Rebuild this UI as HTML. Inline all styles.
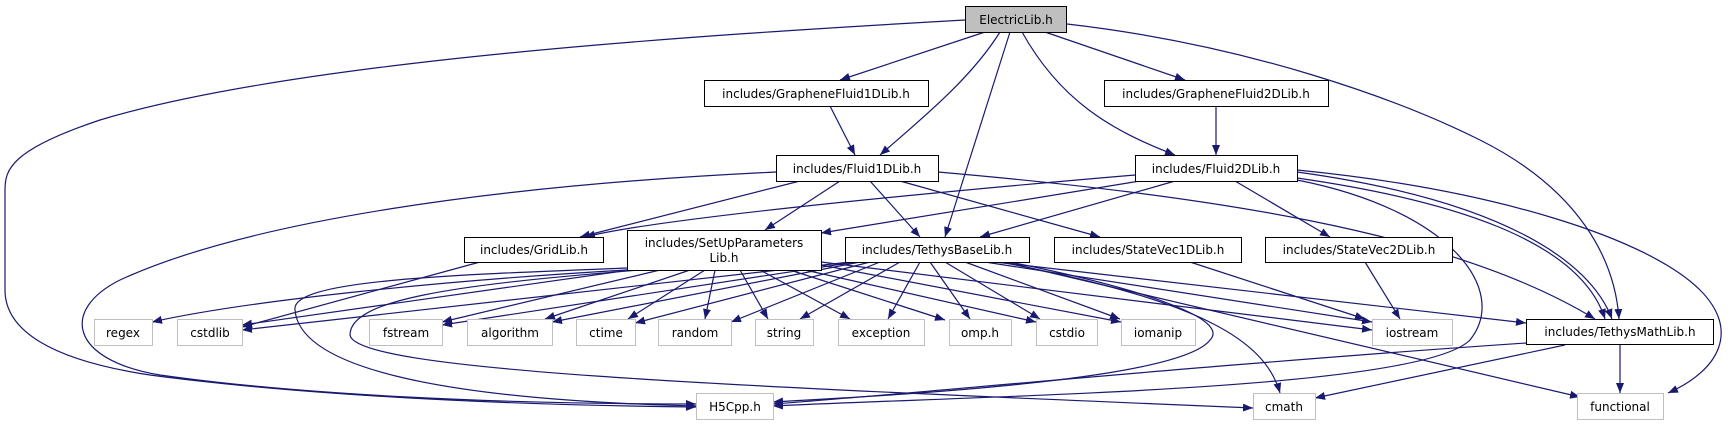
<!DOCTYPE html>
<html><head><meta charset="utf-8"><style>
html,body{margin:0;padding:0;background:#fff;width:1735px;height:425px;overflow:hidden}
svg text{font-family:"DejaVu Sans","Liberation Sans",sans-serif;font-size:12px;fill:#000}
</style></head><body>
<svg width="1735" height="425" viewBox="0 0 1735 425" xmlns="http://www.w3.org/2000/svg">
<defs><marker id="a" markerUnits="userSpaceOnUse" markerWidth="11" markerHeight="8" refX="10" refY="4" orient="auto"><path d="M0,0 L10,4 L0,8 z" fill="#191970"/></marker></defs>
<g fill="none" stroke="#191970" stroke-width="1.2" marker-end="url(#a)">
<path d="M965,20 C700,35 300,60 100,120 C10,150 5,170 5,190 L5,290 C5,330 50,360 150,375 C300,395 500,405 696,407"/>
<path d="M985,32 L840,80"/>
<path d="M1000,32 C970,80 920,120 880,155"/>
<path d="M1010,32 L945,237"/>
<path d="M1022,32 C1060,100 1110,130 1175,155"/>
<path d="M1045,32 L1185,80"/>
<path d="M1067,24 C1250,45 1400,100 1480,140 C1580,190 1615,260 1619,319"/>
<path d="M830,106 L855,155"/>
<path d="M1216,106 L1216,155"/>
<path d="M776,172 C500,185 250,220 120,280 C60,310 70,360 160,375 C300,395 500,404 696,404"/>
<path d="M800,181 L580,237"/>
<path d="M840,181 L765,230"/>
<path d="M870,181 L920,237"/>
<path d="M900,181 L1100,237"/>
<path d="M938,172 C1200,195 1450,230 1595,319"/>
<path d="M1135,175 C900,195 650,220 585,237"/>
<path d="M1140,181 L821,233"/>
<path d="M1175,181 L980,237"/>
<path d="M1235,181 L1330,237"/>
<path d="M1297,178 C1450,200 1580,240 1605,319"/>
<path d="M1297,172 C1500,200 1590,260 1612,319"/>
<path d="M1297,170 C1500,190 1650,240 1700,290 C1740,330 1720,370 1668,393"/>
<path d="M1297,180 C1450,210 1510,290 1470,340 C1420,390 1000,395 773,406"/>
<path d="M627,270 C450,280 250,300 152,322"/>
<path d="M630,270 L242,325"/>
<path d="M660,270 L442,322"/>
<path d="M690,270 L545,319"/>
<path d="M705,270 L628,319"/>
<path d="M715,270 L705,319"/>
<path d="M740,270 L768,319"/>
<path d="M760,270 L850,319"/>
<path d="M790,270 L945,320"/>
<path d="M805,270 L1036,322"/>
<path d="M821,265 L1121,322"/>
<path d="M821,262 L1372,330"/>
<path d="M627,268 C450,275 290,280 295,310 C300,370 450,400 696,406"/>
<path d="M640,270 C450,285 350,300 350,335 C355,370 700,385 1253,408"/>
<path d="M480,262 L242,327"/>
<path d="M850,262 L242,330"/>
<path d="M855,262 L442,325"/>
<path d="M860,262 L552,322"/>
<path d="M870,262 L635,323"/>
<path d="M880,262 L731,322"/>
<path d="M900,262 L800,319"/>
<path d="M920,262 L888,319"/>
<path d="M930,262 L970,319"/>
<path d="M945,262 L1040,319"/>
<path d="M965,262 L1120,319"/>
<path d="M985,262 L1372,322"/>
<path d="M995,262 L1526,323"/>
<path d="M1000,262 C1200,300 1265,340 1280,393"/>
<path d="M1005,262 L1580,397"/>
<path d="M1010,262 C1150,290 1230,320 1210,340 C1180,380 900,395 773,402"/>
<path d="M1190,262 L1365,319"/>
<path d="M1365,262 L1400,319"/>
<path d="M1526,343 C1200,365 900,395 773,404"/>
<path d="M1565,345 L1315,398"/>
<path d="M1620,345 L1620,393"/>
</g>
<g stroke="#000" stroke-width="1" fill="#fff">
<rect x="965.5" y="6.5" width="101" height="26" fill="#bfbfbf"/>
<rect x="704.5" y="80.5" width="224" height="26"/>
<rect x="1104.5" y="80.5" width="224" height="26"/>
<rect x="776.5" y="155.5" width="162" height="26"/>
<rect x="1135.5" y="155.5" width="162" height="26"/>
<rect x="464.5" y="237.5" width="139" height="25"/>
<rect x="627.5" y="230.5" width="194" height="40"/>
<rect x="845.5" y="237.5" width="184" height="25"/>
<rect x="1054.5" y="237.5" width="187" height="25"/>
<rect x="1265.5" y="237.5" width="187" height="25"/>
<rect x="1526.5" y="319.5" width="187" height="25"/>
</g>
<g stroke="#bfbfbf" stroke-width="1" fill="#fff">
<rect x="94.5" y="319.5" width="58" height="26"/>
<rect x="177.5" y="319.5" width="65" height="26"/>
<rect x="369.5" y="319.5" width="73" height="26"/>
<rect x="467.5" y="319.5" width="85" height="26"/>
<rect x="576.5" y="319.5" width="59" height="26"/>
<rect x="658.5" y="319.5" width="73" height="26"/>
<rect x="755.5" y="319.5" width="58" height="26"/>
<rect x="838.5" y="319.5" width="86" height="26"/>
<rect x="949.5" y="319.5" width="62" height="26"/>
<rect x="1036.5" y="319.5" width="61" height="26"/>
<rect x="1121.5" y="319.5" width="74" height="26"/>
<rect x="1372.5" y="319.5" width="80" height="26"/>
<rect x="696.5" y="393.5" width="77" height="26"/>
<rect x="1253.5" y="393.5" width="62" height="26"/>
<rect x="1577.5" y="393.5" width="86" height="26"/>
</g>
<g text-anchor="middle">
<text x="1016" y="24">ElectricLib.h</text>
<text x="816" y="98">includes/GrapheneFluid1DLib.h</text>
<text x="1216" y="98">includes/GrapheneFluid2DLib.h</text>
<text x="857" y="173">includes/Fluid1DLib.h</text>
<text x="1216" y="173">includes/Fluid2DLib.h</text>
<text x="534" y="254">includes/GridLib.h</text>
<text x="724" y="247">includes/SetUpParameters</text>
<text x="724" y="262">Lib.h</text>
<text x="937" y="254">includes/TethysBaseLib.h</text>
<text x="1148" y="254">includes/StateVec1DLib.h</text>
<text x="1359" y="254">includes/StateVec2DLib.h</text>
<text x="1620" y="336">includes/TethysMathLib.h</text>
<text x="123" y="337">regex</text>
<text x="210" y="337">cstdlib</text>
<text x="406" y="337">fstream</text>
<text x="510" y="337">algorithm</text>
<text x="606" y="337">ctime</text>
<text x="695" y="337">random</text>
<text x="784" y="337">string</text>
<text x="881" y="337">exception</text>
<text x="980" y="337">omp.h</text>
<text x="1067" y="337">cstdio</text>
<text x="1158" y="337">iomanip</text>
<text x="1412" y="337">iostream</text>
<text x="735" y="411">H5Cpp.h</text>
<text x="1284" y="411">cmath</text>
<text x="1620" y="411">functional</text>
</g>
</svg>
</body></html>
